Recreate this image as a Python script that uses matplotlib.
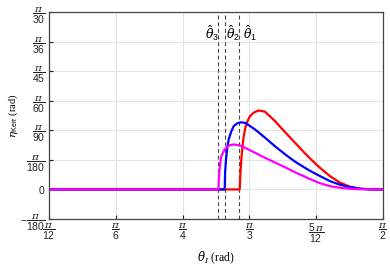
import numpy as np
import matplotlib
matplotlib.use("Agg")
import matplotlib.pyplot as plt

plt.rcParams['mathtext.fontset'] = 'custom'
plt.rcParams['mathtext.rm'] = 'Liberation Sans'
plt.rcParams['mathtext.it'] = 'DejaVu Serif:italic'
plt.rcParams['font.family'] = ['Liberation Sans', 'DejaVu Sans']

# Data in degrees (converted to radians for plotting)
red_x = [15, 57.82, 58.0, 58.18, 58.45, 58.72, 59.08, 59.6, 60.13, 61.0, 62.0, 63.5, 65.75, 67.99,
         70.24, 72.48, 73.61, 74.7, 75.85, 78.10, 80.34, 82.59, 84.83, 87.08, 90]
red_y = [0, 0, 0.6, 1.01, 1.45, 1.80, 2.08, 2.32, 2.48, 2.60, 2.67, 2.63, 2.31, 1.94,
         1.58, 1.22, 1.05, 0.89, 0.73, 0.45, 0.23, 0.09, 0.025, 0.003, 0]

blue_x = [15, 54.45, 54.55, 54.75, 55.0, 55.35, 55.9, 56.47, 57.2, 57.96, 59.08, 61.26, 63.50, 65.75,
          67.99, 70.24, 72.48, 73.61, 75.85, 78.10, 80.34, 82.59, 84.83, 87.0, 90]
blue_y = [0, 0, 0.6, 1.01, 1.38, 1.69, 1.95, 2.14, 2.23, 2.27, 2.25, 2.03, 1.75, 1.46,
          1.19, 0.94, 0.73, 0.63, 0.45, 0.28, 0.16, 0.08, 0.024, 0.004, 0]

mag_x = [15, 53.05, 53.12, 53.24, 53.45, 53.69, 54.3, 54.97, 55.7, 56.47, 57.4, 58.34, 61.26, 63.50,
         65.75, 67.99, 70.24, 72.48, 73.61, 75.85, 78.10, 80.34, 82.59, 85.0, 90]
mag_y = [0, 0, 0.3, 0.55, 0.9, 1.12, 1.32, 1.44, 1.50, 1.52, 1.50, 1.46, 1.24, 1.07,
         0.91, 0.75, 0.58, 0.43, 0.35, 0.21, 0.11, 0.057, 0.024, 0.006, 0]

thresholds = [57.73, 54.5, 53.0]
threshold_labels = [r'$\hat{\theta}_1$', r'$\hat{\theta}_2$', r'$\hat{\theta}_3$']
label_x = [60.1, 56.4, 51.5]

xtick_vals = [np.pi/12, np.pi/6, np.pi/4, np.pi/3, 5*np.pi/12, np.pi/2]
xtick_labels = [r'$\dfrac{\pi}{12}$', r'$\dfrac{\pi}{6}$', r'$\dfrac{\pi}{4}$',
                r'$\dfrac{\pi}{3}$', r'$\dfrac{5\,\pi}{12}$', r'$\dfrac{\pi}{2}$']
ytick_vals = [-np.pi/180, 0, np.pi/180, np.pi/90, np.pi/60, np.pi/45, np.pi/36, np.pi/30]
ytick_labels = [r'$-\dfrac{\pi}{180}$', r'$0$', r'$\dfrac{\pi}{180}$', r'$\dfrac{\pi}{90}$',
                r'$\dfrac{\pi}{60}$', r'$\dfrac{\pi}{45}$', r'$\dfrac{\pi}{36}$', r'$\dfrac{\pi}{30}$']

fig = plt.figure(figsize=(3.9, 2.7), dpi=100)
ax = fig.add_axes([49/390, 1-219/270, (383-49)/390, (219-12)/270])

for xs, ys, c in [(red_x, red_y, '#ff0000'), (blue_x, blue_y, '#0000ff'), (mag_x, mag_y, '#ff00ff')]:
    ax.plot(np.radians(xs), np.radians(ys), color=c, lw=1.6, solid_joinstyle='round')

for t in thresholds:
    ax.axvline(np.radians(t), color='#444444', lw=0.8, ls=(0, (3.5, 2.5)), zorder=1)

for lx, lab in zip(label_x, threshold_labels):
    ax.text(np.radians(lx), np.radians(5.3), lab, ha='center', va='center', fontsize=9)

ax.set_xlim(np.pi/12, np.pi/2)
ax.set_ylim(-np.pi/180, np.pi/30)
ax.set_xticks(xtick_vals)
ax.set_xticklabels(xtick_labels)
ax.set_yticks(ytick_vals)
ax.set_yticklabels(ytick_labels)
ax.tick_params(direction='in', length=3, width=0.8, labelsize=7.5, colors='#222222', pad=2)
ax.tick_params(axis='y', pad=2.5)
ax.grid(True, color='#e4e4e4', lw=0.8, zorder=0)
ax.set_axisbelow(True)
for s in ax.spines.values():
    s.set_color('#444444')
    s.set_linewidth(0.9)

ax.set_xlabel(r'$\theta_I$ (rad)', fontsize=8.5, family='Liberation Serif', labelpad=3)
ax.set_ylabel(r'$\eta_{\mathrm{Kerr}}$ (rad)', fontsize=7.5, family='Liberation Serif', labelpad=0)

fig.savefig('out.png', dpi=100)
